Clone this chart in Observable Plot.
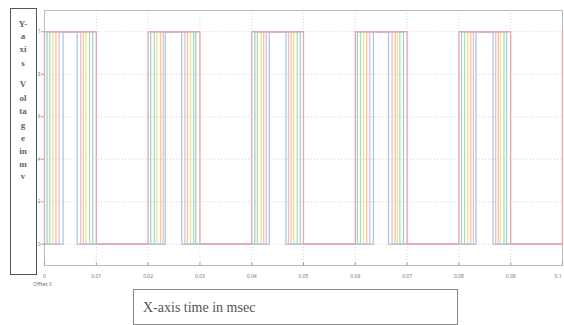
<!DOCTYPE html>
<html><head><meta charset="utf-8">
<script src="https://cdn.jsdelivr.net/npm/d3@7"></script>
<script src="https://cdn.jsdelivr.net/npm/@observablehq/plot@0.6"></script>
<style>
body{margin:0;background:#fff;}
#wrap{position:relative;width:564px;height:325px;overflow:hidden;background:#fff;}
#wrap svg{position:absolute;left:0;top:0;}
#ybox{position:absolute;left:10px;top:8px;width:27px;height:267px;border:1.5px solid #555;box-sizing:border-box;background:#fff;}
.yl{position:absolute;left:0;width:24px;text-align:center;font-family:"Liberation Serif",serif;font-size:9px;font-weight:bold;color:#666;line-height:9px;}
#xbox{position:absolute;left:133px;top:289px;width:325px;height:36px;border:1.5px solid #888;box-sizing:border-box;background:#fff;}
#xbox span{position:absolute;left:9px;top:10px;font-family:"Liberation Serif",serif;font-size:14px;color:#555;}
</style></head>
<body><div id="wrap"></div>
<script>
// Tick values and labels
const xTicks = [0,0.01,0.02,0.03,0.04,0.05,0.06,0.07,0.08,0.09,0.1];
const xTickLabels = ["0","0.01","0.02","0.03","0.04","0.05","0.06","0.07","0.08","0.09","0.1"];
const yTicks = [0,0.2,0.4,0.6,0.8,1];
const yLabelLines = ["Y-","a","xi","s","","V","ol","ta","g","e","in","m","v"];
const xAxisTitle = "X-axis time in msec";
const offsetLabel = "Offset 0";

// Switching instants (s) of each signal: rising / falling edges
const s1Rise = [0.0005,0.0205,0.0406,0.0604,0.0805];
const s1Fall = [0.0093,0.0292,0.0494,0.0693,0.0892];
const s2Rise = [0.0010,0.0212,0.0411,0.0610,0.0811];
const s2Fall = [0.0087,0.0288,0.0488,0.0686,0.0887];
const s3Rise = [0.0016,0.0217,0.0418,0.0616,0.0817];
const s3Fall = [0.0080,0.0282,0.0481,0.0681,0.0880];
const s4Rise = [0.0022,0.0224,0.0423,0.0622,0.0823];
const s4Fall = [0.0075,0.0276,0.0476,0.0677,0.0876];
const s5Rise = [0.0028,0.0229,0.0428,0.0628,0.0828];
const s5Fall = [0.0070,0.0271,0.0471,0.0671,0.0871];
const s6Rise = [0.0036,0.0233,0.0434,0.0635,0.0833];
const s6Fall = [0.0063,0.0265,0.0466,0.0664,0.0866];
const s7Rise = [0,0.02,0.04,0.06,0.08,0.1];
const s7Fall = [0.01,0.03,0.05,0.07,0.09];
const lowLevel = 0, highLevel = 1, tEnd = 0.1;

const seriesNames  = ["S1","S2","S3","S4","S5","S6","S7"];
const seriesColors = ["#9ad6d2","#b3dcb0","#f1df98","#f3c79a","#ecbccf","#a9cae6","#eaa5ad"];
const seriesRise = [s1Rise,s2Rise,s3Rise,s4Rise,s5Rise,s6Rise,s7Rise];
const seriesFall = [s1Fall,s2Fall,s3Fall,s4Fall,s5Fall,s6Fall,s7Fall];

const rows = [];
seriesNames.forEach((name, k) => {
  const edges = [];
  seriesRise[k].forEach(t => edges.push({t, up: true}));
  seriesFall[k].forEach(t => edges.push({t, up: false}));
  edges.sort((a,b) => a.t - b.t);
  let level = lowLevel;
  if (!(edges.length && edges[0].t === 0)) rows.push({name, t: 0, v: level});
  edges.forEach(e => {
    rows.push({name, t: e.t, v: level});
    level = e.up ? highLevel : lowLevel;
    rows.push({name, t: e.t, v: level});
  });
  if (rows[rows.length-1].t < tEnd) rows.push({name, t: tEnd, v: level});
});

const lastTick = xTicks.length - 1;
const plot = Plot.plot({
  width: 564, height: 325,
  marginLeft: 44, marginRight: 2, marginTop: 10, marginBottom: 60,
  x: {domain: [0, 0.1], axis: null},
  y: {domain: [-0.1, 1.1], axis: null},
  color: {type: "ordinal", domain: seriesNames, range: seriesColors},
  style: {background: "transparent"},
  marks: [
    Plot.ruleX(xTicks, {x: d => d, stroke: "#d4d4d4", strokeDasharray: "1,2"}),
    Plot.ruleY(yTicks, {y: d => d, stroke: "#d4d4d4", strokeDasharray: "1,2"}),
    Plot.frame({stroke: "#bbb"}),
    Plot.line(rows, {x: "t", y: "v", z: "name", stroke: "name", strokeWidth: 1.3, curve: "linear"}),
    Plot.ruleX(xTicks, {x: d => d, y1: -0.1, y2: -0.088, stroke: "#999"}),
    Plot.ruleY(yTicks, {y: d => d, x1: -0.0005, x2: 0, stroke: "#999"}),
    Plot.text(xTicks.slice(0, lastTick), {x: d => d, y: -0.1, dy: 11, text: (d, i) => xTickLabels[i], fontSize: 5, fill: "#777"}),
    Plot.text([xTicks[lastTick]], {x: d => d, y: -0.1, dy: 11, dx: -1, textAnchor: "end", text: () => xTickLabels[lastTick], fontSize: 5, fill: "#777"}),
    Plot.text([0], {x: d => d, y: -0.1, dy: 19, dx: -2, text: () => offsetLabel, fontSize: 5, fill: "#777"}),
    Plot.text(yTicks, {x: 0, y: d => d, dx: -4, textAnchor: "end", text: d => String(d), fontSize: 4.5, fill: "#777"})
  ]
});
const wrap = document.getElementById("wrap");
wrap.appendChild(plot);

const ybox = document.createElement("div");
ybox.id = "ybox";
const yTops = [11,23,36,50,63,71,85,98,112,125,138,151,163];
yLabelLines.forEach((s, i) => {
  const d = document.createElement("div");
  d.className = "yl";
  d.style.top = yTops[i] + "px";
  d.textContent = s;
  ybox.appendChild(d);
});
wrap.appendChild(ybox);

const xbox = document.createElement("div");
xbox.id = "xbox";
const sp = document.createElement("span");
sp.textContent = xAxisTitle;
xbox.appendChild(sp);
wrap.appendChild(xbox);
</script>
</body></html>
